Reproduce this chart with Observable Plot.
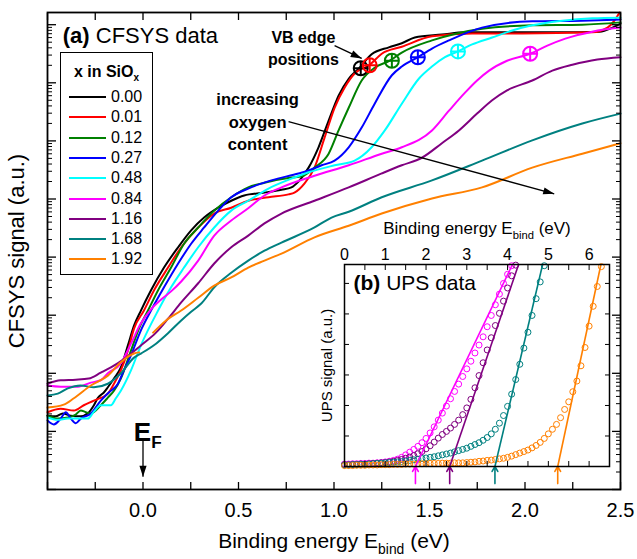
<!DOCTYPE html>
<html><head><meta charset="utf-8">
<script src="https://cdn.jsdelivr.net/npm/d3@7"></script>
<script src="https://cdn.jsdelivr.net/npm/@observablehq/plot@0.6"></script>
<style>
body{margin:0;background:#fff;font-family:"Liberation Sans",Arial,sans-serif;}
#wrap{position:relative;width:637px;height:559px;overflow:hidden;}
#wrap svg{position:absolute;overflow:visible;}
#legend{position:absolute;left:60px;top:52px;width:93px;height:223px;border:1.2px solid #000;background:#fff;box-sizing:border-box;}
#legend .title{position:absolute;left:0;width:100%;top:10px;text-align:center;font-weight:bold;font-size:16px;}
#legend .title sub{font-size:10px;}
#legend .row{position:absolute;left:8px;height:20px;display:flex;align-items:center;font-size:16px;}
#legend .row span.ln{display:inline-block;width:37px;height:2px;margin-right:5px;}
</style></head><body><div id="wrap"><div id="legend"><div class="title">x in SiO<sub>x</sub></div></div></div>
<script>
// ---------- DATA ----------
const seriesLabels = ["0.00","0.01","0.12","0.27","0.48","0.84","1.16","1.68","1.92"];
const seriesColors = ["#000000","#ff0000","#008000","#0000ff","#00ffff","#ff00ff","#800080","#008080","#ff8000"];

// CFSYS curves: [binding energy (eV), log10 signal]
const cfsys000 = [[-0.50,1.27],[-0.457,1.26],[-0.420,1.31],[-0.378,1.27],[-0.326,1.26],[-0.289,1.31],[-0.257,1.45],[-0.236,1.58],[-0.205,1.67],[-0.184,1.76],[-0.152,1.91],[-0.116,2.10],[-0.079,2.48],[-0.047,2.82],[-0.011,3.08],[0.042,3.43],[0.110,3.82],[0.184,4.17],[0.252,4.46],[0.320,4.68],[0.394,4.85],[0.462,4.97],[0.530,5.06],[0.636,5.11],[0.725,5.16],[0.777,5.20],[0.814,5.30],[0.867,5.54],[0.919,5.89],[0.972,6.35],[1.024,6.78],[1.077,7.07],[1.134,7.26],[1.197,7.49],[1.287,7.61],[1.355,7.68],[1.423,7.78],[1.565,7.83],[1.686,7.87],[1.880,7.87],[2.195,7.87],[2.390,7.88],[2.458,7.95],[2.5,8.02]];
const cfsys001 = [[-0.50,1.33],[-0.431,1.39],[-0.362,1.36],[-0.310,1.45],[-0.257,1.53],[-0.184,1.65],[-0.152,1.82],[-0.116,2.05],[-0.079,2.39],[-0.047,2.77],[0.005,3.08],[0.058,3.43],[0.131,3.82],[0.200,4.17],[0.289,4.51],[0.373,4.75],[0.462,4.85],[0.551,4.97],[0.657,5.03],[0.762,5.08],[0.793,5.11],[0.846,5.27],[0.898,5.54],[0.951,6.06],[1.003,6.57],[1.056,6.92],[1.108,7.16],[1.187,7.31],[1.250,7.50],[1.355,7.62],[1.513,7.80],[1.723,7.85],[1.985,7.85],[2.353,7.87],[2.432,7.95],[2.468,8.07],[2.495,8.21]];
const cfsys012 = [[-0.50,1.27],[-0.446,1.22],[-0.394,1.24],[-0.352,1.29],[-0.326,1.36],[-0.299,1.33],[-0.273,1.31],[-0.221,1.45],[-0.184,1.58],[-0.152,1.70],[-0.116,1.91],[-0.063,2.39],[-0.021,2.77],[0.026,3.08],[0.079,3.43],[0.147,3.82],[0.215,4.23],[0.289,4.51],[0.373,4.80],[0.462,5.03],[0.551,5.20],[0.636,5.28],[0.777,5.37],[0.830,5.39],[0.898,5.54],[0.972,5.78],[1.024,6.18],[1.077,6.57],[1.145,7.04],[1.213,7.26],[1.292,7.38],[1.355,7.52],[1.513,7.73],[1.644,7.85],[1.775,7.93],[2.038,7.99],[2.300,8.00],[2.5,8.04]];
const cfsys027 = [[-0.50,1.19],[-0.467,1.12],[-0.431,1.22],[-0.404,1.33],[-0.378,1.22],[-0.352,1.14],[-0.326,1.22],[-0.273,1.31],[-0.221,1.53],[-0.179,1.67],[-0.131,1.82],[-0.100,2.05],[-0.063,2.31],[-0.011,2.74],[0.042,3.08],[0.110,3.48],[0.184,3.89],[0.252,4.23],[0.320,4.51],[0.394,4.80],[0.462,5.03],[0.551,5.18],[0.672,5.32],[0.814,5.44],[0.867,5.49],[0.935,5.58],[1.003,5.66],[1.077,5.89],[1.145,6.23],[1.213,6.64],[1.303,7.13],[1.355,7.28],[1.439,7.44],[1.513,7.59],[1.602,7.73],[1.775,7.95],[2.038,8.06],[2.300,8.07],[2.5,8.09]];
const cfsys048 = [[-0.50,1.24],[-0.446,1.20],[-0.394,1.22],[-0.326,1.22],[-0.289,1.22],[-0.257,1.34],[-0.221,1.45],[-0.168,1.45],[-0.142,1.57],[-0.116,1.70],[-0.063,2.05],[-0.011,2.48],[0.079,3.08],[0.147,3.48],[0.215,3.82],[0.289,4.17],[0.373,4.51],[0.462,4.80],[0.551,4.97],[0.657,5.18],[0.777,5.35],[0.867,5.46],[1.003,5.58],[1.108,5.66],[1.197,5.89],[1.266,6.18],[1.355,6.64],[1.444,7.07],[1.513,7.28],[1.581,7.44],[1.649,7.54],[1.723,7.66],[1.828,7.78],[1.933,7.90],[2.038,7.99],[2.195,8.07],[2.353,8.11],[2.5,8.12]];
const cfsys084 = [[-0.50,1.79],[-0.431,1.77],[-0.341,1.77],[-0.273,1.84],[-0.221,1.88],[-0.184,2.00],[-0.116,2.17],[-0.063,2.51],[-0.011,2.86],[0.042,3.10],[0.095,3.27],[0.147,3.41],[0.200,3.58],[0.289,3.94],[0.373,4.37],[0.462,4.63],[0.551,4.84],[0.636,5.06],[0.725,5.20],[0.898,5.40],[1.077,5.58],[1.250,5.78],[1.355,5.89],[1.513,6.18],[1.602,6.52],[1.686,6.83],[1.749,7.04],[1.812,7.21],[1.906,7.38],[2.027,7.50],[2.117,7.64],[2.211,7.76],[2.353,7.88],[2.5,7.95]];
const cfsys116 = [[-0.50,1.82],[-0.431,1.88],[-0.352,1.89],[-0.284,1.91],[-0.221,2.01],[-0.168,2.10],[-0.089,2.27],[-0.011,2.48],[0.068,2.70],[0.131,2.94],[0.200,3.22],[0.289,3.55],[0.373,3.89],[0.462,4.17],[0.551,4.37],[0.636,4.58],[0.725,4.75],[0.898,4.97],[1.077,5.20],[1.250,5.44],[1.355,5.58],[1.460,5.71],[1.565,5.96],[1.654,6.18],[1.749,6.47],[1.828,6.70],[1.906,6.87],[2.038,7.04],[2.143,7.21],[2.248,7.31],[2.379,7.40],[2.5,7.44]];
const cfsys168 = [[-0.50,1.62],[-0.446,1.65],[-0.394,1.74],[-0.326,1.79],[-0.257,1.76],[-0.184,1.82],[-0.116,2.00],[-0.047,2.27],[-0.011,2.34],[0.068,2.51],[0.131,2.69],[0.200,2.91],[0.252,3.06],[0.305,3.20],[0.373,3.48],[0.462,3.73],[0.551,3.94],[0.636,4.11],[0.725,4.25],[0.898,4.51],[0.987,4.68],[1.077,4.78],[1.250,5.03],[1.513,5.32],[1.775,5.66],[2.038,6.01],[2.300,6.30],[2.5,6.47]];
const cfsys192 = [[-0.50,1.41],[-0.415,1.46],[-0.362,1.57],[-0.273,1.79],[-0.184,1.96],[-0.116,2.19],[-0.047,2.34],[-0.021,2.36],[0.016,NaN],[0.053,2.70],[0.121,2.91],[0.200,3.08],[0.289,3.30],[0.373,3.51],[0.462,3.65],[0.551,3.82],[0.636,3.94],[0.725,4.06],[0.898,4.34],[1.077,4.54],[1.250,4.75],[1.513,5.01],[1.775,5.20],[2.038,5.54],[2.300,5.78],[2.5,5.96]];
const cfsysSeries = [cfsys000,cfsys001,cfsys012,cfsys027,cfsys048,cfsys084,cfsys116,cfsys168,cfsys192];

// VB edge positions (first six samples)
const vbEdgeE  = [1.140,1.187,1.303,1.439,1.649,2.027];
const vbEdgeLg = [7.25,7.30,7.38,7.44,7.54,7.50];

// UPS inset: energy grid (eV) and signals (a.u.)
const upsE = [0.0,0.1,0.2,0.3,0.4,0.5,0.6,0.7,0.8,0.9,1.0,1.1,1.2,1.3,1.4,1.5,1.6,1.7,1.8,1.9,2.0,2.1,2.2,2.3,2.4,2.5,2.6,2.7,2.8,2.9,3.0,3.1,3.2,3.3,3.4,3.5,3.6,3.7,3.8,3.9,4.0,4.1,4.2,4.3,4.4,4.5,4.6,4.7,4.8,4.9,5.0,5.1,5.2,5.3,5.4,5.5,5.6,5.7,5.8,5.9,6.0,6.1,6.2,6.3];
const upsMagenta = [0.08,0.08,0.09,0.09,0.1,0.1,0.11,0.11,0.12,0.13,0.15,0.17,0.2,0.24,0.3,0.38,0.47,0.56,0.66,0.78,0.92,1.1,1.3,1.52,1.75,1.98,2.22,2.46,2.7,2.95,3.2,3.45,3.72,3.98,4.25,4.58,4.95,5.3,5.65,6.0,6.3,6.58];
const upsPurple = [0.06,0.06,0.07,0.07,0.08,0.08,0.09,0.1,0.11,0.12,0.13,0.15,0.17,0.2,0.23,0.27,0.31,0.36,0.42,0.49,0.58,0.68,0.8,0.93,1.05,1.15,1.26,1.38,1.52,1.7,1.92,2.2,2.58,2.98,3.4,3.82,4.22,4.62,5.02,5.42,5.85,6.25,6.6];
const upsTeal = [0.05,0.05,0.06,0.06,0.07,0.07,0.08,0.09,0.1,0.11,0.12,0.13,0.14,0.15,0.16,0.18,0.2,0.22,0.24,0.26,0.28,0.3,0.32,0.35,0.38,0.41,0.44,0.48,0.52,0.56,0.6,0.66,0.72,0.78,0.86,0.95,1.07,1.22,1.42,1.67,1.97,2.37,2.85,3.35,3.88,4.4,4.95,5.5,6.05,6.58];
const upsOrange = [0.03,0.03,0.03,0.04,0.04,0.04,0.05,0.05,0.05,0.06,0.06,0.06,0.07,0.07,0.07,0.08,0.08,0.08,0.09,0.09,0.09,0.1,0.1,0.1,0.11,0.11,0.11,0.12,0.12,0.12,0.13,0.14,0.15,0.17,0.18,0.2,0.21,0.23,0.25,0.27,0.3,0.34,0.39,0.44,0.49,0.54,0.61,0.69,0.79,0.92,1.07,1.22,1.38,1.6,1.87,2.12,2.45,2.8,3.3,3.9,4.6,5.25,5.9,6.55];
const upsSeries = [upsMagenta,upsPurple,upsTeal,upsOrange];
const upsColors = ["#ff00ff","#800080","#008080","#ff8000"];
// linear fits: onset (intercept) and energy where fit leaves the top of the panel
const fitOnset = [1.74,2.58,3.69,5.23];
const fitTopE  = [4.12,4.27,4.86,6.29];
const upsTop = 6.62;

// tick values
const xMajor = [0,0.5,1.0,1.5,2.0,2.5];
const xAll = [-0.5,-0.25,0,0.25,0.5,0.75,1.0,1.25,1.5,1.75,2.0,2.25,2.5];
const decades = [0,1,2,3,4,5,6,7,8];
const upsXMajor = [0,1,2,3,4,5,6];
const upsXAll = [0,0.5,1,1.5,2,2.5,3,3.5,4,4.5,5,5.5,6,6.5];
const upsYTicks = [1,2,3,4,5,6];

// annotation arrows in data units: [x1, log10 y1, x2, log10 y2]
const annotArrows = [[1.003,7.64,1.145,7.42],[0.762,6.33,2.153,5.09],[0,0.84,0,0.22]];

// ---------- helpers ----------
const FONT = "Liberation Sans, Arial, Helvetica, sans-serif";
const yMajor = decades.map(k => 10 ** k);
const yMinor = decades.flatMap(k => [2,3,4,5,6,7,8,9].map(m => m * 10 ** k)).filter(v => v < 10 ** 8.21);
const blank = () => "";
const oplus = {draw(ctx, size){const r=Math.sqrt(size/Math.PI);ctx.moveTo(r,0);ctx.arc(0,0,r,0,2*Math.PI);ctx.moveTo(-r,0);ctx.lineTo(r,0);ctx.moveTo(0,-r);ctx.lineTo(0,r);}};
const headSym = {draw(ctx){ctx.moveTo(0,0);ctx.lineTo(-11,-3.6);ctx.lineTo(-11,3.6);ctx.closePath();}};

function richNode(el){
  const s = el.textContent;
  if(!/\*\*|_\{/.test(s)) return;
  const fs = parseFloat(getComputedStyle(el).fontSize) || 16;
  const parts = s.split(/(\*\*[^*]+\*\*|_\{[^}]+\})/).filter(p => p !== "");
  el.textContent = "";
  const NS = "http://www.w3.org/2000/svg";
  let shift = 0;
  for (const p of parts){
    const ts = document.createElementNS(NS, "tspan");
    if (p.startsWith("_{")){
      ts.textContent = p.slice(2,-1);
      ts.setAttribute("font-size", (fs*0.66)+"px");
      ts.setAttribute("dy", (fs*0.27)+"px");
      shift = fs*0.27;
      el.appendChild(ts);
      continue;
    }
    if (p.startsWith("**")){ ts.textContent = p.slice(2,-2); ts.setAttribute("font-weight","bold"); }
    else ts.textContent = p;
    if (shift){ ts.setAttribute("dy", (-shift)+"px"); shift = 0; }
    el.appendChild(ts);
  }
}
function rich(svg){ svg.querySelectorAll("text").forEach(t => { if(!t.querySelector("tspan")) richNode(t); }); }

// ---------- main panel ----------
const lineMarks = cfsysSeries.map((s,i) => Plot.line(s, {x: d => d[0], y: d => 10 ** d[1], stroke: seriesColors[i], strokeWidth: 2, curve: "monotone-x"}));
const vbData = vbEdgeE.map((e,i) => ({e, v: 10 ** vbEdgeLg[i], c: seriesColors[i]}));

function buildMain(extra){
  return Plot.plot({
    width: 637, height: 559,
    marginLeft: 47, marginRight: 17, marginTop: 12, marginBottom: 70,
    style: {fontFamily: FONT, background: "transparent", color: "#000"},
    x: {domain: [-0.5, 2.5]},
    y: {type: "log", domain: [1, 10 ** 8.21]},
    marks: [
      ...lineMarks,
      Plot.dot(vbData, {x: "e", y: "v", stroke: "c", r: 7, strokeWidth: 2, symbol: oplus, fill: "none"}),
      Plot.text(["**(a)** CFSYS data"], {x: -0.42, y: 10 ** 7.81, text: d => d, textAnchor: "start", fontSize: 22}),
      Plot.text(["VB edge\npositions"], {x: 0.84, y: 10 ** 7.62, text: d => d, fontSize: 16, fontWeight: "bold", lineHeight: 1.4}),
      Plot.text(["increasing\noxygen\ncontent"], {x: 0.60, y: 10 ** 6.35, text: d => d, fontSize: 16.5, fontWeight: "bold", lineHeight: 1.35}),
      Plot.text(["E_{F}"], {x: 0.025, y: 10 ** 0.98, text: d => d, fontSize: 26, fontWeight: "bold"}),
      Plot.link(annotArrows, {x1: d => d[0], y1: d => 10 ** d[1], x2: d => d[2], y2: d => 10 ** d[3], stroke: "black", strokeWidth: 1.3}),
      ...extra,
      Plot.frame({strokeWidth: 1.8}),
      Plot.axisX(xMajor, {anchor: "bottom", tickSize: 0, tickPadding: 13, fontSize: 20, tickFormat: d3.format(".1f"), label: null}),
      Plot.axisX(xAll, {anchor: "bottom", tickSize: -7, tickFormat: blank, label: null, strokeWidth: 1.3}),
      Plot.axisX(xAll, {anchor: "top", tickSize: -7, tickFormat: blank, label: null, strokeWidth: 1.3}),
      Plot.axisY(yMajor, {anchor: "left", tickSize: -9, tickFormat: blank, label: null, strokeWidth: 1.3}),
      Plot.axisY(yMinor, {anchor: "left", tickSize: -5, tickFormat: blank, label: null, strokeWidth: 1}),
      Plot.axisY(yMajor, {anchor: "right", tickSize: -9, tickFormat: blank, label: null, strokeWidth: 1.3}),
      Plot.axisY(yMinor, {anchor: "right", tickSize: -5, tickFormat: blank, label: null, strokeWidth: 1}),
      Plot.text(["Binding energy E_{bind} (eV)"], {frameAnchor: "bottom", dy: 52, lineAnchor: "middle", textAnchor: "middle", text: d => d, fontSize: 21}),
      Plot.text(["CFSYS signal (a.u.)"], {frameAnchor: "left", dx: -31, rotate: -90, textAnchor: "middle", lineAnchor: "middle", text: d => d, fontSize: 22})
    ]
  });
}
// first pass gives the scales; the filled arrowheads are then oriented in screen space
const probe = buildMain([]);
const sx = probe.scale("x"), sy = probe.scale("y");
const heads = annotArrows.map(a => ({x: a[2], y: 10 ** a[3],
  angle: Math.atan2(sy.apply(10 ** a[3]) - sy.apply(10 ** a[1]), sx.apply(a[2]) - sx.apply(a[0])) * 180 / Math.PI}));
const main = buildMain([Plot.dot(heads, {x: "x", y: "y", rotate: "angle", symbol: headSym, fill: "black", stroke: "none", r: 5})]);

// ---------- inset panel ----------
const upsDots = upsSeries.map((s,i) => Plot.dot(s.map((v,j) => ({e: upsE[j], v})), {x: "e", y: "v", r: 3, stroke: upsColors[i], strokeWidth: 1, fill: "none"}));
const upsFits = upsSeries.map((s,i) => Plot.link([0], {x1: fitOnset[i], y1: 0, x2: fitTopE[i], y2: upsTop, stroke: upsColors[i], strokeWidth: 1.6}));
const upsArrows = upsSeries.map((s,i) => Plot.arrow([0], {x1: fitOnset[i], y1: -0.56, x2: fitOnset[i], y2: 0, stroke: upsColors[i], strokeWidth: 1.6, headLength: 8}));

const inset = Plot.plot({
  width: 330, height: 285,
  marginLeft: 44, marginRight: 21, marginTop: 54, marginBottom: 29,
  style: {fontFamily: FONT, background: "transparent", color: "#000", overflow: "visible"},
  x: {domain: [0, 6.5]},
  y: {domain: [0, upsTop]},
  marks: [
    Plot.rect([0], {x1: 0, x2: 6.5, y1: 0, y2: upsTop, fill: "white"}),
    ...upsDots,
    ...upsFits,
    ...upsArrows,
    Plot.text(["**(b)** UPS data"], {x: 0.22, y: 6.0, text: d => d, textAnchor: "start", fontSize: 21}),
    Plot.frame({strokeWidth: 1.5}),
    Plot.axisX(upsXMajor, {anchor: "top", tickSize: 0, tickPadding: 5, fontSize: 16, tickFormat: d => String(d), label: null}),
    Plot.axisX(upsXAll, {anchor: "top", tickSize: -5, tickFormat: blank, label: null}),
    Plot.axisX(upsXAll, {anchor: "bottom", tickSize: -5, tickFormat: blank, label: null}),
    Plot.axisY(upsYTicks, {anchor: "left", tickSize: -5, tickFormat: blank, label: null}),
    Plot.axisY(upsYTicks, {anchor: "right", tickSize: -5, tickFormat: blank, label: null}),
    Plot.text(["Binding energy E_{bind} (eV)"], {frameAnchor: "top", dy: -36, lineAnchor: "middle", textAnchor: "middle", text: d => d, fontSize: 17}),
    Plot.text(["UPS signal (a.u.)"], {frameAnchor: "left", dx: -17, rotate: -90, textAnchor: "middle", lineAnchor: "middle", text: d => d, fontSize: 15})
  ]
});

const wrap = document.getElementById("wrap");
main.style.left = "0px"; main.style.top = "0px";
inset.style.left = "300px"; inset.style.top = "210px";
wrap.insertBefore(main, wrap.firstChild);
wrap.insertBefore(inset, document.getElementById("legend"));
rich(main); rich(inset);

// legend
const legend = document.getElementById("legend");
seriesLabels.forEach((lab,i) => {
  const row = document.createElement("div");
  row.className = "row";
  row.style.top = (34 + 20.3 * i) + "px";
  row.innerHTML = `<span class="ln" style="background:${seriesColors[i]}"></span>${lab}`;
  legend.appendChild(row);
});
</script></body></html>
